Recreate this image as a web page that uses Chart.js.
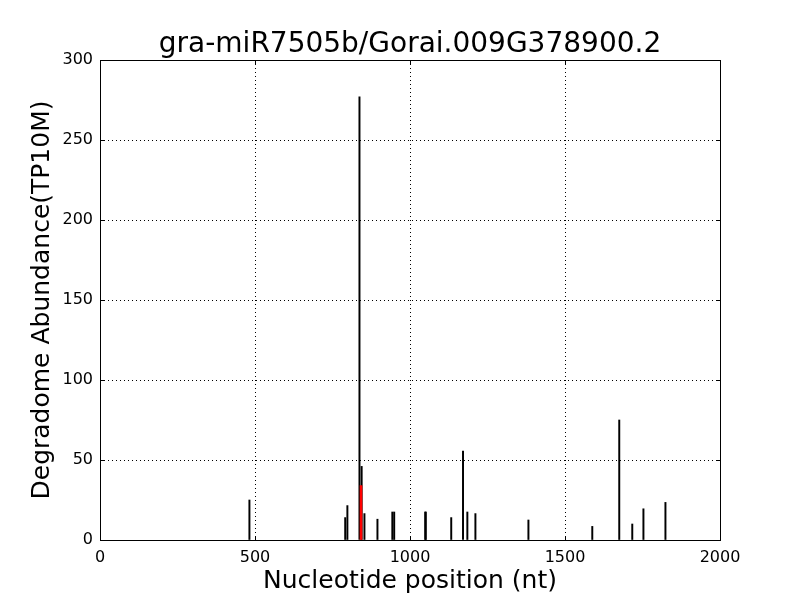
<!DOCTYPE html>
<html>
<head>
<meta charset="utf-8">
<script src="https://cdn.jsdelivr.net/npm/chart.js@4"></script>
<style>
  html, body { margin: 0; padding: 0; background: #fff; }
  #wrap { width: 800px; height: 600px; }
</style>
</head>
<body>
<div id="wrap"><canvas id="chart" width="800" height="600"></canvas></div>
<script>
// degradome reads (position in nt, abundance in TP10M)
const positions = [482, 791, 798, 837, 844, 853, 895, 943, 949, 1049, 1051, 1133, 1171, 1185, 1211, 1382, 1588, 1675, 1717, 1753, 1824];
const abundance = [25, 14, 21.5, 277, 46, 16.5, 13, 17.5, 17.5, 17.5, 17.5, 14, 55.5, 17.5, 16.5, 12.5, 8.5, 75, 10, 19.5, 23.5];

// the cleavage site predicted for the miRNA
const sitePositions = [842];
const siteAbundance = [34];

const xTicks = [0, 500, 1000, 1500, 2000];
const yTicks = [0, 50, 100, 150, 200, 250, 300];

const TITLE = 'gra-miR7505b/Gorai.009G378900.2';
const FONT = "'DejaVu Sans', sans-serif";

// matplotlib style frame: box round the plot, small inward ticks, title over the plot area
const framePlugin = {
    id: 'frame',
    afterDatasetsDraw(chart) {
        const { ctx, chartArea: a, scales } = chart;
        ctx.save();
        ctx.strokeStyle = '#000';
        ctx.lineWidth = 1;
        ctx.setLineDash([]);
        ctx.beginPath();
        xTicks.forEach(v => {
            const x = Math.round(scales.x.getPixelForValue(v)) + 0.5;
            ctx.moveTo(x, a.bottom); ctx.lineTo(x, a.bottom - 4);
            ctx.moveTo(x, a.top); ctx.lineTo(x, a.top + 4);
        });
        yTicks.forEach(v => {
            const y = Math.round(scales.y.getPixelForValue(v)) + 0.5;
            ctx.moveTo(a.left, y); ctx.lineTo(a.left + 4, y);
            ctx.moveTo(a.right, y); ctx.lineTo(a.right - 4, y);
        });
        ctx.stroke();
        ctx.strokeRect(Math.round(a.left) + 0.5, Math.round(a.top) + 0.5,
            Math.round(a.right - a.left), Math.round(a.bottom - a.top));

        ctx.fillStyle = '#000';
        ctx.font = '28px ' + FONT;
        ctx.textAlign = 'center';
        ctx.textBaseline = 'alphabetic';
        ctx.fillText(TITLE, (a.left + a.right) / 2, 52);
        ctx.restore();
    }
};

new Chart(document.getElementById('chart'), {
    type: 'bar',
    data: {
        datasets: [
            {
                label: 'site',
                data: sitePositions.map((p, i) => ({ x: p, y: siteAbundance[i] })),
                backgroundColor: '#ff0000',
                barThickness: 2,
                grouped: false,
                order: 0
            },
            {
                label: 'reads',
                data: positions.map((p, i) => ({ x: p, y: abundance[i] })),
                backgroundColor: '#000000',
                barThickness: 1.3,
                grouped: false,
                order: 1
            }
        ]
    },
    plugins: [framePlugin],
    options: {
        responsive: false,
        animation: false,
        layout: { padding: { top: 60, right: 80, bottom: 0, left: 0 } },
        plugins: {
            legend: { display: false },
            tooltip: { enabled: false },
            title: { display: false }
        },
        scales: {
            x: {
                type: 'linear',
                min: 0,
                max: 2000,
                offset: false,
                afterFit: s => { s.height = 60; },
                afterBuildTicks: s => { s.ticks = xTicks.map(v => ({ value: v })); },
                grid: { color: '#000', lineWidth: 1, drawTicks: false, offset: false },
                border: { display: false, dash: [1, 3] },
                ticks: {
                    color: '#000', padding: 8, maxRotation: 0,
                    font: { family: FONT, size: 16 },
                    callback: v => String(v)
                },
                title: {
                    display: true,
                    text: 'Nucleotide position (nt)',
                    color: '#000',
                    font: { family: FONT, size: 25 },
                    padding: { top: 0, bottom: 4 }
                }
            },
            y: {
                min: 0,
                max: 300,
                afterFit: s => { s.width = 100; },
                afterBuildTicks: s => { s.ticks = yTicks.map(v => ({ value: v })); },
                grid: { color: '#000', lineWidth: 1, drawTicks: false },
                border: { display: false, dash: [1, 3] },
                ticks: {
                    color: '#000', padding: 7,
                    font: { family: FONT, size: 16 },
                    callback: v => String(v)
                },
                title: {
                    display: true,
                    text: 'Degradome Abundance(TP10M)',
                    color: '#000',
                    font: { family: FONT, size: 25 },
                    padding: { top: 27, bottom: 0 }
                }
            }
        }
    }
});
</script>
</body>
</html>
